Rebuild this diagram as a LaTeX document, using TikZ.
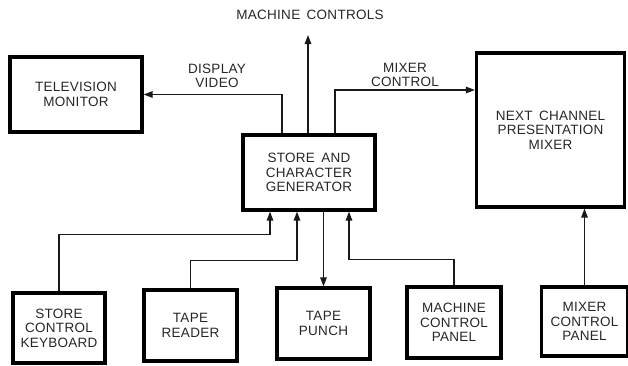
\documentclass[tikz,border=0pt]{standalone}
\usepackage{fontspec}
\setmainfont{Liberation Sans}[WordSpace=1.6,LetterSpace=2]
\usetikzlibrary{arrows.meta,positioning}

\begin{document}
\begin{tikzpicture}[x=1pt, y=-1pt,
    block/.style={draw=black, line width=3.2pt, align=center, inner sep=0pt,
      font=\fontsize{13.5}{14.5}\selectfont, text=black!85},
    link/.style={draw=black!90, line width=1.3pt, -{Triangle[length=9pt,width=6.5pt]}},
    tag/.style={align=center, font=\fontsize{13.5}{14}\selectfont, text=black!85}]
  \useasboundingbox (0,0) rectangle (628,365);

  % Main blocks
  \node[block, minimum width=132pt, minimum height=75pt] (tv) at (76,94.5) {TELEVISION\\MONITOR};
  \node[block, minimum width=132pt, minimum height=75pt] (scg) at (309,172.5) {STORE AND\\CHARACTER\\GENERATOR};
  \node[block, minimum width=148pt, minimum height=154pt] (mixer) at (550.5,130) {NEXT CHANNEL\\PRESENTATION\\MIXER};

  % Bottom row
  \node[block, minimum width=92pt, minimum height=70pt] (kbd) at (59,328) {STORE\\CONTROL\\KEYBOARD};
  \node[block, minimum width=93pt, minimum height=71pt] (reader) at (190.5,325.5) {TAPE\\READER};
  \node[block, minimum width=93pt, minimum height=71pt] (punch) at (323.5,323.5) {TAPE\\PUNCH};
  \node[block, minimum width=94pt, minimum height=71pt] (mcp) at (454,322.5) {MACHINE\\CONTROL\\PANEL};
  \node[block, minimum width=86pt, minimum height=69pt] (mxp) at (584.5,321.5) {MIXER\\CONTROL\\PANEL};

  % Outputs of the store
  \node[tag] (mclabel) at (310,15) {MACHINE CONTROLS};
  \coordinate (mctop) at (308,35);
  \draw[link] (scg.north -| mctop) -- (mctop);
  \draw[link] ([xshift=-27pt]scg.north) |- (tv.east);
  \node[tag] (dvlabel) at (217,76) {DISPLAY\\VIDEO};
  \draw[link] ([xshift=26pt]scg.north) |- ([yshift=40pt]mixer.west);
  \node[tag] (mxlabel) at (405,75) {MIXER\\CONTROL};

  % Inputs from the panels
  \draw[link] (kbd.north) -- ++(0,-57) -| ([xshift=-39pt]scg.south);
  \draw[link] (reader.north) -- ++(0,-28) -| ([xshift=-12pt]scg.south);
  \draw[link] (punch.north |- scg.south) -- (punch.north);
  \draw[link] (mcp.north) -- ++(0,-26) -| ([xshift=40pt]scg.south);
  \draw[link] (mxp.north) -- (mxp.north |- mixer.south);
\end{tikzpicture}
\end{document}
